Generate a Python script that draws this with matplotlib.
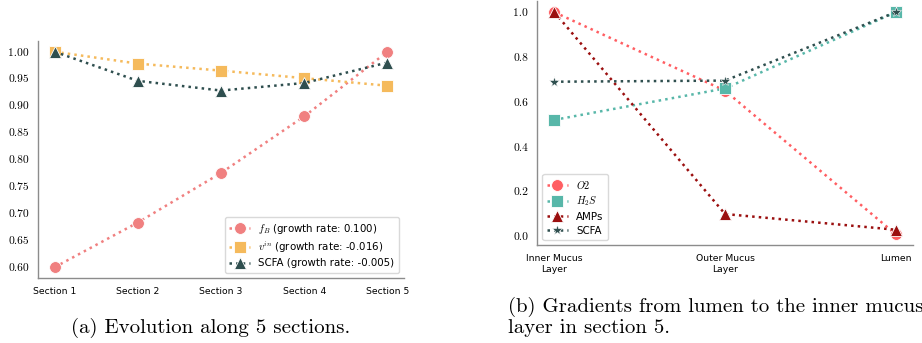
import numpy as np
import matplotlib
matplotlib.use('Agg')
import matplotlib.pyplot as plt

plt.rcParams['mathtext.fontset'] = 'cm'
plt.rcParams['axes.unicode_minus'] = False

# (a) evolution along sections
sections = ['Section 1', 'Section 2', 'Section 3', 'Section 4', 'Section 5']
f_b = [0.600, 0.683, 0.775, 0.880, 1.000]
v_in = [1.000, 0.978, 0.965, 0.951, 0.937]
scfa_sec = [1.000, 0.946, 0.928, 0.942, 0.980]
labels_a = [r'$f_B$ (growth rate: 0.100)',
            r'$v^{in}$ (growth rate: -0.016)',
            'SCFA (growth rate: -0.005)']

# (b) gradients in section 5
layers = ['Inner Mucus\nLayer', 'Outer Mucus\nLayer', 'Lumen']
o2 = [1.00, 0.65, 0.01]
h2s = [0.52, 0.66, 1.00]
amps = [1.00, 0.10, 0.03]
scfa_lay = [0.69, 0.695, 1.00]
labels_b = [r'$O2$', r'$H_2S$', 'AMPs', 'SCFA']

fig = plt.figure(figsize=(9.22, 3.43), dpi=100)
ax1 = fig.add_axes([0.0412, 0.1895, 0.397, 0.691])
ax2 = fig.add_axes([0.5828, 0.2848, 0.4072, 0.712])

mk = dict(ls=':', lw=1.8, ms=8.5, mec='white', mew=0.6)

x = np.arange(len(sections))
ax1.plot(x, f_b, marker='o', color='#F08080', label=labels_a[0], **mk)
ax1.plot(x, v_in, marker='s', color='#F5BA5C', label=labels_a[1], **mk)
ax1.plot(x, scfa_sec, marker='^', color='#2F4F4F', label=labels_a[2], **mk)
ax1.set_xticks(x)
ax1.set_xticklabels(sections)
ax1.set_yticks([0.60, 0.65, 0.70, 0.75, 0.80, 0.85, 0.90, 0.95, 1.00])
ax1.set_yticklabels(['%.2f' % v for v in ax1.get_yticks()])

xb = np.arange(len(layers))
ax2.plot(xb, o2, marker='o', color='#FF5E62', label=labels_b[0], **mk)
ax2.plot(xb, h2s, marker='s', color='#58B7A9', label=labels_b[1], **mk)
ax2.plot(xb, amps, marker='^', color='#9B0F0F', label=labels_b[2], **mk)
ax2.plot(xb, scfa_lay, marker='*', color='#2F4F4F', label=labels_b[3],
         ls=':', lw=1.8, ms=8, mec='white', mew=0.4)
ax2.set_xticks(xb)
ax2.set_xticklabels(layers)
ax2.set_yticks([0.0, 0.2, 0.4, 0.6, 0.8, 1.0])
ax2.set_yticklabels(['%.1f' % v for v in ax2.get_yticks()])

for ax in (ax1, ax2):
    for s in ('top', 'right'):
        ax.spines[s].set_visible(False)
    for s in ('left', 'bottom'):
        ax.spines[s].set_color('0.55')
        ax.spines[s].set_linewidth(1.0)
    ax.tick_params(length=0)
    ax.tick_params(axis='x', labelsize=6.7, pad=6.5)
    ax.tick_params(axis='y', pad=6.5)
    for t in ax.get_yticklabels():
        t.set_fontfamily('cmr10')
        t.set_fontsize(8.3)

leg_kw = dict(fontsize=7.4, frameon=True, fancybox=True, framealpha=1,
              edgecolor='0.85', handlelength=2.0, borderpad=0.45,
              labelspacing=0.35, handletextpad=0.8)
ax1.legend(loc='lower right', **leg_kw)
ax2.legend(loc='lower left', **leg_kw)

fig.text(0.228, 0.043, '(a) Evolution along 5 sections.', ha='center',
         va='center', family='cmr10', fontsize=15)
fig.text(0.551, 0.105, '(b) Gradients from lumen to the inner mucus',
         ha='left', va='center', family='cmr10', fontsize=15)
fig.text(0.551, 0.043, 'layer in section 5.', ha='left', va='center',
         family='cmr10', fontsize=15)

fig.savefig('out.png', dpi=100)
